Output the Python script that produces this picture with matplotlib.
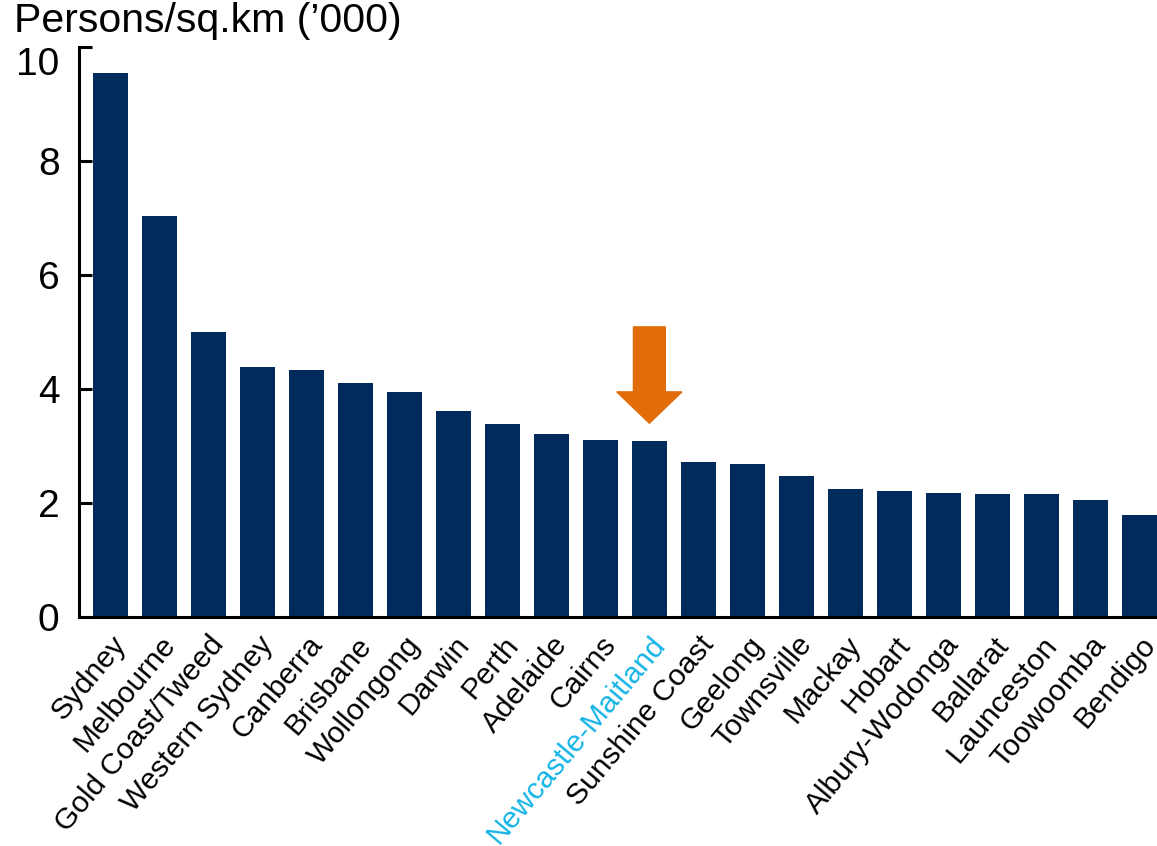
import matplotlib
matplotlib.use('Agg')
import matplotlib.pyplot as plt
from matplotlib.transforms import ScaledTranslation

plt.rcParams['font.family'] = ['Liberation Sans', 'DejaVu Sans']

cities = ['Sydney', 'Melbourne', 'Gold Coast/Tweed', 'Western Sydney', 'Canberra',
          'Brisbane', 'Wollongong', 'Darwin', 'Perth', 'Adelaide', 'Cairns',
          'Newcastle-Maitland', 'Sunshine Coast', 'Geelong', 'Townsville', 'Mackay',
          'Hobart', 'Albury-Wodonga', 'Ballarat', 'Launceston', 'Toowoomba', 'Bendigo']
density = [9.55, 7.04, 5.0, 4.39, 4.33, 4.1, 3.95, 3.61, 3.39, 3.21, 3.1,
           3.08, 2.72, 2.68, 2.47, 2.25, 2.21, 2.18, 2.16, 2.16, 2.05, 1.79]
highlight = 'Newcastle-Maitland'

navy = '#002b5c'
cyan = '#14b4e6'
orange = '#e36c0a'

fig = plt.figure(figsize=(11.57, 8.46), dpi=100)
ax = fig.add_axes([0.0683, 0.2707, 0.9317, 0.6737])

x = list(range(len(cities)))
ax.bar(x, density, width=0.71, color=navy, zorder=2)

ax.set_ylim(0, 10)
ax.set_xlim(-0.64, 21.36)
ax.set_yticks([0, 2, 4, 6, 8, 10])
ax.tick_params(axis='y', direction='in', length=9, width=2.2, labelsize=28, pad=14)
ax.tick_params(axis='x', length=0, labelsize=21.5, pad=10)

# top label sits a little below its tick, as in the source
top = ax.get_yticklabels()[-1]
top.set_transform(top.get_transform() + ScaledTranslation(0, -0.14, fig.dpi_scale_trans))

ax.set_xticks(x)
ax.set_xticklabels(cities, rotation=50, ha='right', rotation_mode='anchor')
for lbl in ax.get_xticklabels():
    if lbl.get_text() == highlight:
        lbl.set_color(cyan)

for s in ['top', 'right']:
    ax.spines[s].set_visible(False)
for s in ['left', 'bottom']:
    ax.spines[s].set_linewidth(2.2)

# arrow pointing at highlighted city
hi = cities.index(highlight)
ax.arrow(hi, 5.09, 0, -1.69, width=0.65, head_width=1.33, head_length=0.55,
         length_includes_head=True, color=orange, zorder=3, clip_on=False)

fig.text(0.012, 0.998, 'Persons/sq.km (\u2019000)', fontsize=29.5, va='top', ha='left')

fig.savefig('out.png', dpi=100)
